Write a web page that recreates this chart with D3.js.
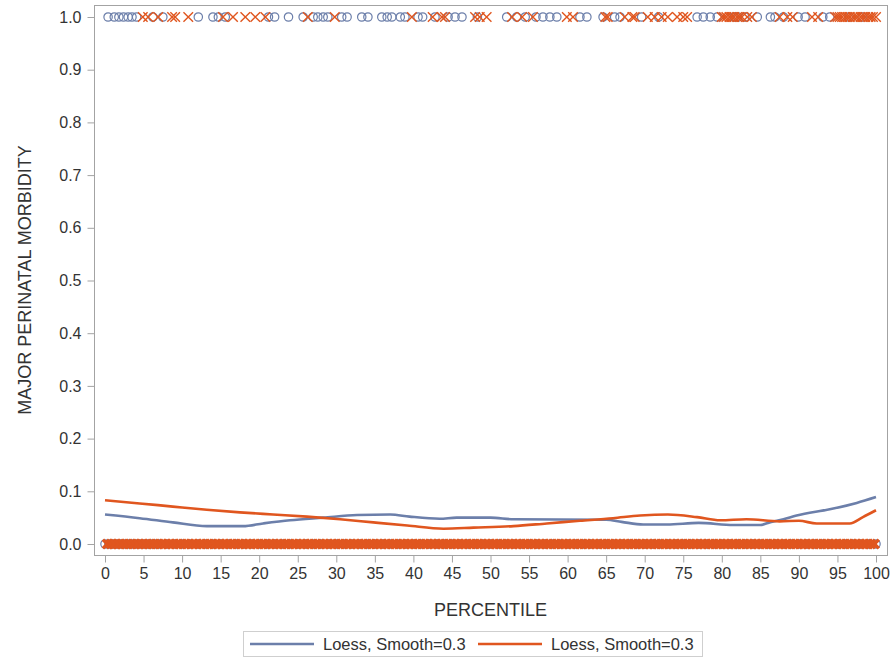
<!DOCTYPE html>
<html>
<head>
<meta charset="utf-8">
<script src="https://cdn.jsdelivr.net/npm/d3@7"></script>
<style>
  html, body { margin: 0; padding: 0; background: #fff; }
  svg { display: block; font-family: "Liberation Sans", Arial, sans-serif; }
</style>
</head>
<body>
<svg id="chart" width="895" height="659"></svg>
<script>
// ---------------- data ----------------
const xTicks = [0,5,10,15,20,25,30,35,40,45,50,55,60,65,70,75,80,85,90,95,100];
const yTicks = [0.0,0.1,0.2,0.3,0.4,0.5,0.6,0.7,0.8,0.9,1.0];
const seriesNames = ["Loess, Smooth=0.3", "Loess, Smooth=0.3"];

// observed events (y = 1), group 1 (circles) and group 2 (crosses)
const eventsBlue = [0.4,1.2,1.8,2.4,3,3.5,4.1,6.2,7.5,12.1,14,14.7,15.6,21.2,22,23.8,25.7,27,27.6,28.3,28.9,
  30.7,31.4,33.3,34.1,35.9,36.6,37.2,38.3,38.9,40.6,41.2,42.8,44.5,45.4,46.3,48.3,52.1,53.4,54.5,55.9,56.8,
  57.7,58.6,61.6,62.5,64.6,66.1,66.8,69.6,71.8,76.8,77.6,78.5,79.4,81.6,82.1,83,84.6,86.3,86.9,88,89.9,90.8,
  93.1,94,96.5,98.2];
const eventsOrange = [4.9,5.6,6.9,8.7,9.1,10.8,15.3,16.6,18.2,19.5,20.8,26.3,29.8,39.8,42.5,43.7,44.1,48,48.6,
  49.5,52.8,54.1,55.5,59.9,60.7,64.9,65.2,67.4,68.4,68.7,70.4,71.3,72.2,73,74.2,75,75.5,80,80.3,80.6,81,81.3,
  81.6,82,82.3,82.6,83.3,83.9,87.5,88.5,89.2,91.7,92.5,94.7,95,95.3,95.6,96,96.3,96.6,97,97.3,97.6,98,98.3,
  98.6,99,99.3,99.6,100];

// observed non-events (y = 0)
const zerosBlue = [0,0.5,1,1.5,2,2.5,3,3.5,4,4.5,5,5.5,6,6.5,7,8,9,10,11,12,13,14,15,16,17,18,19,20,21,22,23,24,
  25,26,27,28,29,30,31,32,33,34,35,36,37,38,39,40,41,42,43,44,45,46,47,48,49,50,51,52,53,54,55,56,57,58,59,60,
  61,62,63,64,65,66,67,68,69,70,71,72,73,74,75,76,77,78,79,80,81,82,83,84,85,86,87,88,89,90,91,92,93,94,95,96,
  97,98,99,100];
const zerosOrange = [0.3,0.8,1.3,1.8,2.3,2.8,3.3,3.8,4.3,4.8,5.3,5.8,6.3,6.8,7.3,7.8,8.3,8.8,9.3,9.8,10.3,10.8,11.3,
  11.8,12.3,12.8,13.3,13.8,14.3,14.8,15.3,15.8,16.3,16.8,17.3,17.8,18.3,18.8,19.3,19.8,20.3,20.8,21.3,21.8,22.3,22.8,
  23.3,23.8,24.3,24.8,25.3,25.8,26.3,26.8,27.3,27.8,28.3,28.8,29.3,29.8,30.3,30.8,31.3,31.8,32.3,32.8,33.3,33.8,34.3,
  34.8,35.3,35.8,36.3,36.8,37.3,37.8,38.3,38.8,39.3,39.8,40.3,40.8,41.3,41.8,42.3,42.8,43.3,43.8,44.3,44.8,45.3,45.8,
  46.3,46.8,47.3,47.8,48.3,48.8,49.3,49.8,50.3,50.8,51.3,51.8,52.3,52.8,53.3,53.8,54.3,54.8,55.3,55.8,56.3,56.8,57.3,
  57.8,58.3,58.8,59.3,59.8,60.3,60.8,61.3,61.8,62.3,62.8,63.3,63.8,64.3,64.8,65.3,65.8,66.3,66.8,67.3,67.8,68.3,68.8,
  69.3,69.8,70.3,70.8,71.3,71.8,72.3,72.8,73.3,73.8,74.3,74.8,75.3,75.8,76.3,76.8,77.3,77.8,78.3,78.8,79.3,79.8,80.3,
  80.8,81.3,81.8,82.3,82.8,83.3,83.8,84.3,84.8,85.3,85.8,86.3,86.8,87.3,87.8,88.3,88.8,89.3,89.8,90.3,90.8,91.3,91.8,
  92.3,92.8,93.3,93.8,94.3,94.8,95.3,95.8,96.3,96.8,97.3,97.8,98.3,98.8,99.3,99.8];

// loess fits
const loessBlueX = [0,4.5,8.8,13.2,17.9,20.5,24,28.3,32.7,37,39.5,43.4,45.6,50,53,65,67,69.8,72.9,77,81.5,85,86,88,89.7,94,97.5,100];
const loessBlueY = [0.056,0.049,0.041,0.034,0.034,0.039,0.045,0.050,0.055,0.056,0.052,0.048,0.050,0.050,0.047,0.046,0.042,0.037,0.037,0.040,0.036,0.036,0.040,0.047,0.054,0.066,0.078,0.089];
const loessOrangeX = [0,4.5,8.8,13.2,17.5,21.8,26.2,30.5,34.8,39.2,43.9,47.8,53,57.3,61.6,65.9,69.4,73,76.8,79.8,83.2,87.5,90,92.3,96.6,98.3,100];
const loessOrangeY = [0.083,0.077,0.071,0.065,0.060,0.056,0.052,0.047,0.041,0.035,0.029,0.031,0.034,0.039,0.044,0.049,0.054,0.056,0.051,0.045,0.047,0.043,0.044,0.039,0.039,0.051,0.064];

// ---------------- drawing ----------------
const BLUE = "#6C7FAA", ORANGE = "#E0561F", AXIS = "#A3A3A3", TEXT = "#333";
const svg = d3.select("#chart");
const frame = {left: 94, top: 5, right: 887, bottom: 555};

const x = d3.scaleLinear().domain([0, 100]).range([105, 876]);
const y = d3.scaleLinear().domain([0, 1]).range([544, 17]);

// frame
svg.append("rect")
  .attr("x", frame.left + 0.5).attr("y", frame.top + 0.5)
  .attr("width", frame.right - frame.left).attr("height", frame.bottom - frame.top)
  .attr("fill", "none").attr("stroke", AXIS).attr("stroke-width", 1);

// axes
const xAxis = svg.append("g").attr("transform", `translate(0,${frame.bottom + 0.5})`)
  .call(d3.axisBottom(x).tickValues(xTicks).tickSize(7).tickPadding(5).tickFormat(d3.format("d")));
const yAxis = svg.append("g").attr("transform", `translate(${frame.left + 0.5},0)`)
  .call(d3.axisLeft(y).tickValues(yTicks).tickSize(7).tickPadding(6).tickFormat(d3.format(".1f")));
[xAxis, yAxis].forEach(g => {
  g.select(".domain").remove();
  g.selectAll(".tick line").attr("stroke", AXIS);
  g.selectAll(".tick text").attr("fill", TEXT).style("font-size", "16px")
    .style("font-family", "'Liberation Sans', Arial, sans-serif");
});

// axis labels
svg.append("text").attr("x", (frame.left + frame.right) / 2).attr("y", 616)
  .attr("text-anchor", "middle").attr("fill", TEXT).style("font-size", "18px").text("PERCENTILE");
svg.append("text")
  .attr("transform", `translate(31,${(frame.top + frame.bottom) / 2}) rotate(-90)`)
  .attr("text-anchor", "middle").attr("fill", TEXT).style("font-size", "18px")
  .text("MAJOR PERINATAL MORBIDITY");

const plot = svg.append("g");

function circles(vals, yv) {
  plot.append("g").selectAll("circle").data(vals).join("circle")
    .attr("cx", d => x(d)).attr("cy", y(yv)).attr("r", 4.2)
    .attr("fill", "none").attr("stroke", BLUE).attr("stroke-width", 1.2);
}
function crosses(vals, yv, sw, s) {
  plot.append("g").selectAll("path").data(vals).join("path")
    .attr("d", d => {
      const cx = x(d), cy = y(yv);
      return `M${cx - s},${cy - s}L${cx + s},${cy + s}M${cx - s},${cy + s}L${cx + s},${cy - s}`;
    })
    .attr("fill", "none").attr("stroke", ORANGE).attr("stroke-width", sw);
}
circles(zerosBlue, 0);
circles(eventsBlue, 1);
crosses(zerosOrange, 0, 3.4, 4.4);
crosses(eventsOrange, 1, 1.4, 4.8);

const line = d3.line().x(d => x(d[0])).y(d => y(d[1])).curve(d3.curveMonotoneX);
plot.append("path").datum(d3.zip(loessBlueX, loessBlueY)).attr("d", line)
  .attr("fill", "none").attr("stroke", BLUE).attr("stroke-width", 2.6);
plot.append("path").datum(d3.zip(loessOrangeX, loessOrangeY)).attr("d", line)
  .attr("fill", "none").attr("stroke", ORANGE).attr("stroke-width", 2.6);

// legend
const lg = svg.append("g");
lg.append("rect").attr("x", 243.5).attr("y", 631.5).attr("width", 459).attr("height", 25)
  .attr("fill", "#fff").attr("stroke", "#CFCFCF");
const items = [{c: BLUE, x0: 250, name: seriesNames[0]}, {c: ORANGE, x0: 478, name: seriesNames[1]}];
items.forEach(it => {
  lg.append("line").attr("x1", it.x0).attr("x2", it.x0 + 64).attr("y1", 644).attr("y2", 644)
    .attr("stroke", it.c).attr("stroke-width", 2.6);
  lg.append("text").attr("x", it.x0 + 73).attr("y", 650).attr("fill", TEXT)
    .style("font-size", "16.5px").text(it.name);
});
</script>
</body>
</html>
